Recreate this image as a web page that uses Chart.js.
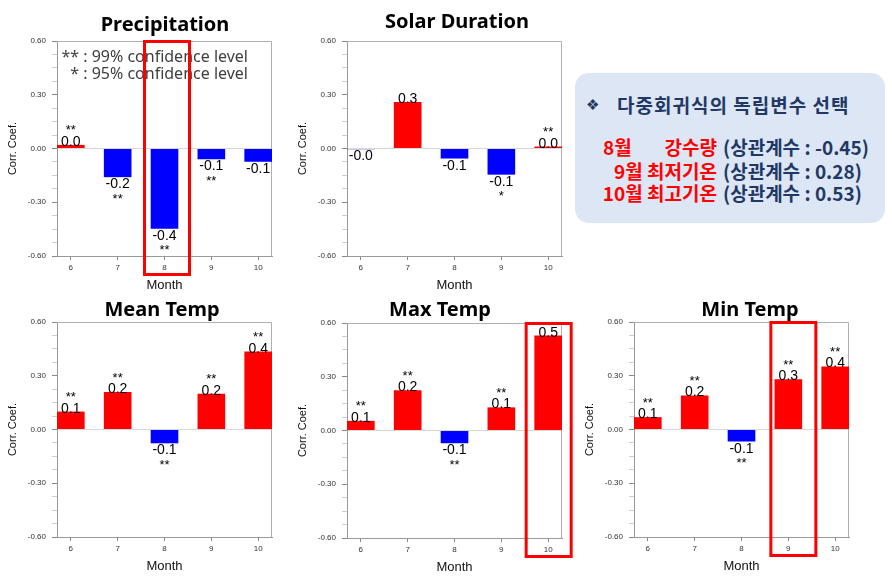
<!DOCTYPE html>
<html><head><meta charset="utf-8">
<script src="https://cdn.jsdelivr.net/npm/chart.js@4"></script>
<style>
html,body{margin:0;padding:0;background:#fff;width:892px;height:584px;overflow:hidden;position:relative}
canvas{position:absolute}
.box{position:absolute;left:575px;top:73px;width:310px;height:150px;border-radius:14px;background:#dce6f4}
.t{position:absolute;font-family:"Noto Sans CJK KR";font-weight:700;font-size:19px;line-height:24px;white-space:nowrap;color:#1f3864}
.r{color:#ff0000}
</style></head><body>
<div class="box"></div>
<div class="t" style="left:586px;top:93px;font-family:'DejaVu Sans';font-size:15px">❖</div>
<div class="t" style="left:617px;top:93px;letter-spacing:1px">다중회귀식의 독립변수 선택</div>
<div class="t r" style="left:603px;top:135px">8월</div>
<div class="t r" style="right:175px;top:135px">강수량</div>
<div class="t" style="left:723px;top:135px">(상관계수 : -0.45)</div>
<div class="t r" style="right:175px;top:159px">9월 최저기온</div>
<div class="t" style="left:723px;top:159px">(상관계수 : 0.28)</div>
<div class="t r" style="right:175px;top:181px">10월 최고기온</div>
<div class="t" style="left:723px;top:181px">(상관계수 : 0.53)</div>
<script>
// ---- data ----
const months = [6, 7, 8, 9, 10];
const monthLabels = ['6', '7', '8', '9', '10'];
const precipitation = [0.02, -0.16, -0.448, -0.06, -0.074];
const solarDuration = [-0.004, 0.259, -0.056, -0.146, 0.011];
const meanTemp = [0.10, 0.209, -0.077, 0.20, 0.435];
const maxTemp = [0.054, 0.224, -0.071, 0.129, 0.53];
const minTemp = [0.069, 0.19, -0.067, 0.281, 0.352];
const precipSig = ['**', '**', '**', '**', ''];
const solarSig = ['', '', '', '*', '**'];
const meanSig = ['**', '**', '**', '**', '**'];
const maxSig = ['**', '**', '**', '**', ''];
const minSig = ['**', '**', '**', '**', '**'];
const yTickValues = [-0.6, -0.3, 0, 0.3, 0.6];
const yTickLabels = ['-0.60', '-0.30', '0.00', '0.30', '0.60'];
const legendLines = ['** : 99% confidence level', '* : 95% confidence level'];

const panels = [
  {title: 'Precipitation', values: precipitation, sig: precipSig, L: 57, T: 41, tx: 165, ty: 31, legend: true, hl: {month: 8, dx: 2.5}},
  {title: 'Solar Duration', values: solarDuration, sig: solarSig, L: 347, T: 41, tx: 167, ty: 28},
  {title: 'Mean Temp', values: meanTemp, sig: meanSig, L: 57, T: 322, tx: 162, ty: 35},
  {title: 'Max Temp', values: maxTemp, sig: maxSig, L: 347, T: 323, tx: 150, ty: 34, hl: {month: 10, dx: 0.5}},
  {title: 'Min Temp', values: minTemp, sig: minSig, L: 634, T: 322, tx: 173, ty: 35, hl: {month: 9, dx: 5}}
];

const yMinor = Array.from({length: 17}, (_, i) => -0.6 + i * 0.075);
const isMajor = v => yTickValues.some(t => Math.abs(t - v) < 1e-6);

function deco(p) {
  return {
    id: 'deco',
    beforeDatasetsDraw(chart) {
      const {ctx, chartArea: a} = chart;
      ctx.save();
      ctx.strokeStyle = '#b0b0b0'; ctx.lineWidth = 1;
      ctx.beginPath();
      ctx.moveTo(a.left, a.top + 0.5); ctx.lineTo(a.right - 0.5, a.top + 0.5); ctx.lineTo(a.right - 0.5, a.bottom);
      ctx.stroke();
      ctx.restore();
    },
    afterDraw(chart) {
      const {ctx, chartArea: a} = chart;
      const meta = chart.getDatasetMeta(0);
      ctx.save();
      ctx.textAlign = 'center'; ctx.textBaseline = 'alphabetic'; ctx.fillStyle = '#000';
      meta.data.forEach((bar, i) => {
        const v = p.values[i];
        const lbl = v.toFixed(1);
        ctx.font = '14px "Liberation Sans"';
        if (v >= 0) ctx.fillText(lbl, bar.x, bar.y + 1); else ctx.fillText(lbl, bar.x, bar.y + 11);
        if (p.sig[i]) {
          ctx.font = '13px "Liberation Sans"';
          if (v >= 0) ctx.fillText(p.sig[i], bar.x, bar.y - 10.5); else ctx.fillText(p.sig[i], bar.x, bar.y + 25.5);
        }
      });
      ctx.font = 'bold 20px "Noto Sans"';
      ctx.fillStyle = '#000';
      ctx.fillText(p.title, p.tx, p.ty);
      if (p.legend) {
        ctx.font = '16px "Noto Sans"'; ctx.fillStyle = '#404040'; ctx.textAlign = 'right';
        ctx.fillText(legendLines[0], 248, 61.5);
        ctx.fillText(legendLines[1], 248, 79);
      }
      if (p.hl) {
        const x = chart.scales.x.getPixelForValue(p.hl.month) + p.hl.dx;
        ctx.strokeStyle = '#ff0000'; ctx.lineWidth = 3;
        ctx.strokeRect(x - 22.5, a.top - 1 + 1.5, 45, (a.bottom + 20) - (a.top - 1) - 3);
      }
      ctx.restore();
    }
  };
}

function makeChart(p) {
  const cv = document.createElement('canvas');
  cv.width = 287; cv.height = 301;
  cv.style.left = (p.L - 57) + 'px'; cv.style.top = (p.T - 41) + 'px';
  document.body.appendChild(cv);
  new Chart(cv, {
    type: 'bar',
    data: {datasets: [{
      data: months.map((m, i) => ({x: m, y: p.values[i]})),
      backgroundColor: p.values.map(v => v >= 0 ? '#ff0000' : '#0000ff'),
      borderWidth: 0, categoryPercentage: 1, barPercentage: 0.59
    }]},
    options: {
      responsive: false, animation: false, devicePixelRatio: 1,
      layout: {padding: {left: 0, top: 41, right: 15, bottom: 0}},
      plugins: {legend: {display: false}, tooltip: {enabled: false}, title: {display: false}},
      scales: {
        x: {
          type: 'linear', min: 5.705, max: 10.295, offset: false,
          afterBuildTicks: s => { s.ticks = months.map(v => ({value: v})); },
          ticks: {callback: v => { const k = months.indexOf(v); return k >= 0 ? monthLabels[k] : ''; },
                  font: {family: 'Liberation Sans', size: 8}, color: '#333', padding: 3, maxRotation: 0, autoSkip: false},
          grid: {offset: false, drawOnChartArea: false, tickLength: 4, tickColor: '#888'},
          border: {color: '#999'},
          title: {display: true, text: 'Month', font: {family: 'Liberation Sans', size: 13}, color: '#111', padding: {top: 0, bottom: 8}},
          afterFit: s => { s.height = 45; }
        },
        y: {
          min: -0.6, max: 0.6,
          afterBuildTicks: s => { s.ticks = yMinor.map(v => ({value: v})); },
          ticks: {autoSkip: false, callback: v => { const k = yTickValues.findIndex(t => Math.abs(t - v) < 1e-6); return k >= 0 ? yTickLabels[k] : ''; },
                  font: {family: 'Liberation Sans', size: 8}, color: '#333', padding: 6},
          grid: {
            color: c => (c.tick && Math.abs(c.tick.value) < 1e-6) ? '#d8d8d8' : 'rgba(0,0,0,0)',
            tickColor: c => (c.tick && isMajor(c.tick.value)) ? '#888' : '#cfcfcf',
            tickLength: 5
          },
          border: {color: '#999'},
          title: {display: true, text: 'Corr. Coef.', font: {family: 'Liberation Sans', size: 11}, color: '#111', padding: {top: 6, bottom: 0}},
          afterFit: s => { s.width = 57; }
        }
      }
    },
    plugins: [deco(p)]
  });
}
panels.forEach(makeChart);
</script>
</body></html>
